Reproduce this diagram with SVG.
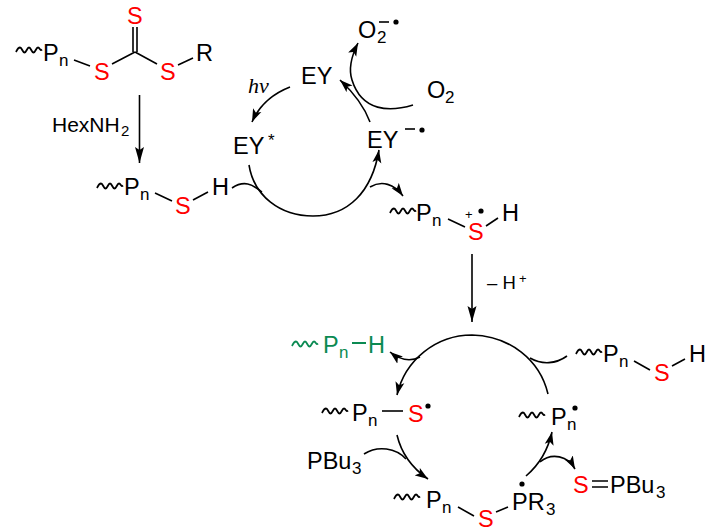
<svg xmlns="http://www.w3.org/2000/svg" width="711" height="532" viewBox="0 0 711 532">
<style>
text{font-family:"Liberation Sans",Arial,sans-serif;font-size:23.500px;fill:#000}
.s{fill:#f00}
.g{fill:#0b8a52}
.sub{font-size:17px}
.m{font-size:21px}
.c{fill:none;stroke:#000;stroke-width:1.6;marker-end:url(#ah)}
.t{fill:none;stroke:#000;stroke-width:1.6;marker-end:url(#at)}
.l{fill:none;stroke:#000;stroke-width:1.6}
.w{fill:none;stroke:#000;stroke-width:1.8}
.gw{fill:none;stroke:#0b8a52;stroke-width:1.8}
.d{fill:#000}
</style>
<defs>
<marker id="ah" markerUnits="userSpaceOnUse" markerWidth="14" markerHeight="10" refX="13" refY="5" orient="auto"><path d="M0 .5L13 5L0 9.500L3 5Z" fill="#000"/></marker>
<marker id="at" markerUnits="userSpaceOnUse" markerWidth="17" markerHeight="10" refX="16" refY="5" orient="auto"><path d="M0 .5L16 5L0 9.500L3 5Z" fill="#000"/></marker>
<path id="wave" d="M0 2C1 0 2-2.500 4-2.500S6.500 2.500 8.500 2.500S11-2.500 13-2.500S15.500 2.500 17.500 2.500S20-2.500 22-2.500S24 1.500 26-.5"/>
</defs>
<g id="connectors">
<path class="t" d="M139.500 95V163"/>
<path class="t" d="M472 254V322"/>
<path class="c" d="M290 87C272 94 259 106 252 122"/>
<path class="c" d="M249 165C254 196 280 216 313 216C348 216 372 192 379 150"/>
<path class="c" d="M370 122C364 106 354 93 340 80"/>
<path class="c" d="M413 105C390 112 362 112 352 80C348 68 352 55 358 43"/>
<path class="l" d="M232 188C244 180 252 184 262 192"/>
<path class="c" d="M370 187C382 180 394 184 403 196"/>
<path class="c" d="M548 394C540 360 510 336 472 335C436 335 405 360 397 395"/>
<path class="c" d="M420 357C410 362 400 360 390 352"/>
<path class="l" d="M567 356C556 364 542 365 530 358"/>
<path class="c" d="M397 435C401 452 412 468 428 479"/>
<path class="l" d="M364 454C378 445 396 448 406 459"/>
<path class="c" d="M526 476C540 464 548 450 552 432"/>
<path class="c" d="M540 462C552 452 568 456 575 469"/>
</g>
<g id="n1"><use href="#wave" class="w" x="16" y="50"/><text x="43" y="61">P</text><text class="sub" x="59" y="66">n</text>
<path class="l" d="M74 60L90 66M112 64L135 52M133 52V27M137 52V27M135 52L157 64M178 65L193 58"/>
<text class="s" x="94" y="80">S</text><text class="s" x="127" y="24">S</text><text class="s" x="160" y="80">S</text><text x="196" y="61">R</text></g>
<g id="hexnh2"><text class="m" x="52" y="132">HexNH</text><text class="sub" x="121" y="136" style="font-size:15px">2</text></g>
<g id="n2"><use href="#wave" class="w" x="97" y="186"/><text x="124" y="195">P</text><text class="sub" x="140" y="200">n</text>
<path class="l" d="M155 193L172 201M193 200L208 192"/><text class="s" x="175" y="214">S</text><text x="212" y="195">H</text></g>
<g id="ey"><text x="301" y="84">EY</text></g>
<g id="hv"><text class="m" x="248" y="93" style="font-family:'Liberation Serif',serif;font-size:22px" font-style="italic">hν</text></g>
<g id="eystar"><text x="233" y="154">EY</text><text class="sub" x="268" y="146">*</text></g>
<g id="eyrad"><path class="l" d="M405 129H415"/><circle class="d" cx="422" cy="130" r="2.600"/><text x="367" y="148">EY</text></g>
<g id="o2"><text x="427" y="98">O</text><text class="sub" x="445" y="103">2</text></g>
<g id="o2rad"><text x="358" y="38">O</text><text class="sub" x="377" y="43">2</text><path class="l" d="M379 22H389"/><circle class="d" cx="396" cy="22" r="2.600"/></g>
<g id="n3"><use href="#wave" class="w" x="390" y="211"/><text x="416" y="221">P</text><text class="sub" x="432" y="226">n</text>
<path class="l" d="M448 219L465 227M486 226L498 218"/><text class="sub" x="465" y="219" style="font-size:13px">+</text><circle class="d" cx="481" cy="211" r="2.600"/><text class="s" x="468" y="240">S</text><text x="502" y="221">H</text></g>
<g id="hplus"><text class="m" x="487" y="289" style="font-size:18.500px">– H</text><text class="sub" x="519" y="283" style="font-size:13px">+</text></g>
<g id="n4"><use href="#wave" class="gw" x="292" y="344"/><text class="g" x="323" y="353">P</text><text class="g sub" x="339" y="358">n</text><path d="M352 343H366" fill="none" stroke="#0b8a52" stroke-width="2"/><text class="g" x="368" y="353">H</text></g>
<g id="n5"><use href="#wave" class="w" x="576" y="352"/><text x="603" y="362">P</text><text class="sub" x="619" y="367">n</text><path class="l" d="M634 361L650 370M672 366L685 359"/><text class="s" x="654" y="381">S</text><text x="689" y="362">H</text></g>
<g id="n6"><use href="#wave" class="w" x="322" y="411"/><text x="352" y="421">P</text><text class="sub" x="368" y="426">n</text><path class="l" d="M382 411H403"/><text class="s" x="408" y="422">S</text><circle class="d" cx="428" cy="406" r="2.600"/></g>
<g id="n7"><use href="#wave" class="w" x="519" y="415"/><text x="551" y="425">P</text><text class="sub" x="567" y="430">n</text><circle class="d" cx="575" cy="408" r="2.600"/></g>
<g id="pbu3"><text x="307" y="469">PBu</text><text class="sub" x="352" y="474">3</text></g>
<g id="n8"><use href="#wave" class="w" x="394" y="497"/><text x="426" y="508">P</text><text class="sub" x="442" y="513">n</text><path class="l" d="M458 507L474 516M496 512L508 507"/><text class="s" x="478" y="527">S</text><text x="512" y="510">PR</text><text class="sub" x="546" y="515">3</text><circle class="d" cx="522" cy="484" r="2.600"/></g>
<g id="n9"><text class="s" x="573" y="493">S</text><path class="l" d="M592 481H608M592 487H608"/><text x="610" y="493">PBu</text><text class="sub" x="656" y="498">3</text></g>
</svg>
